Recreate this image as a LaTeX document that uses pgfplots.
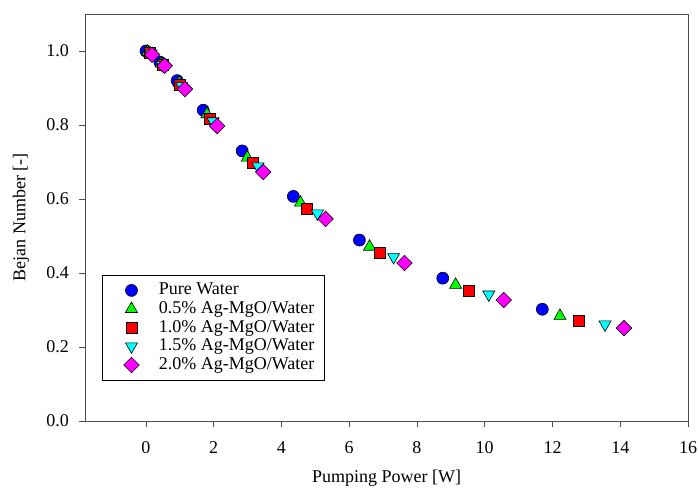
\documentclass[border=0pt]{standalone}
\usepackage{fontspec}
\setmainfont{Liberation Serif}
\usepackage{pgfplots}
\pgfplotsset{compat=1.18}
\definecolor{cblue}{rgb}{0,0,1}
\definecolor{cgreen}{rgb}{0,1,0}
\definecolor{cred}{rgb}{1,0,0}
\definecolor{ccyan}{rgb}{0,1,1}
\definecolor{cmagenta}{rgb}{1,0,1}

\begin{document}
\fontsize{18}{21}\selectfont
\begin{tikzpicture}[x=1pt,y=1pt]
\begin{axis}[
    at={(85pt,73pt)},
    scale only axis,
    width=603pt, height=407pt,
    xmin=-1.8, xmax=16, ymin=0, ymax=1.1,
    xtick={0,2,...,16},
    ytick={0,0.2,...,1.0},
    tick align=outside,
    tick pos=left,
    major tick length=6pt,
    axis line style={line width=0.8pt, black!70},
    every tick/.style={line width=0.8pt, black!70},
    /pgf/number format/assume math mode=true,
    yticklabel style={/pgf/number format/fixed, /pgf/number format/fixed zerofill,
        /pgf/number format/precision=1, xshift=-4pt},
    xticklabel style={yshift=-8pt},
    ticklabel style={font=\fontsize{18}{21}\selectfont},
    xlabel={Pumping Power [W]},
    ylabel={Bejan Number [-]},
    label style={font=\fontsize{18}{21}\selectfont},
    xlabel style={yshift=-4pt},
    ylabel style={yshift=5pt},
    legend style={at={(0.028,0.359)}, anchor=north west, draw=black, line width=0.6pt,
        font=\fontsize{18}{21}\selectfont, row sep=0pt, inner xsep=8pt, inner ysep=6pt,
        nodes={inner xsep=2pt},
        /tikz/every odd column/.append style={column sep=4pt}},
    legend cell align=left,
    every axis plot/.append style={only marks, line width=0.6pt,
        legend image code/.code={\path (0pt,0pt) (42pt,0pt);
            \draw[mark repeat=2,mark phase=2,##1]
            plot coordinates {(0pt,0pt)(21pt,0pt)(42pt,0pt)};}},
]
\addplot[mark=*, mark size=6pt, draw=black, fill=cblue] coordinates {
    (0,1.0)(0.41,0.97)(0.92,0.92)(1.69,0.84)(2.84,0.73)(4.35,0.607)(6.30,0.489)(8.76,0.386)(11.70,0.302)
};
\addlegendentry{Pure Water}
\addplot[mark=triangle*, mark size=7pt, draw=black, fill=cgreen] coordinates {
    (0.05,0.998)(0.45,0.966)(0.98,0.914)(1.80,0.829)(2.99,0.712)(4.56,0.590)(6.60,0.471)(9.14,0.368)(12.22,0.284)
};
\addlegendentry{0.5\% Ag-MgO/Water}
\addplot[mark=square*, mark size=5.5pt, draw=black, fill=cred] coordinates {
    (0.10,0.995)(0.50,0.963)(1.00,0.908)(1.89,0.816)(3.14,0.697)(4.76,0.573)(6.89,0.454)(9.53,0.351)(12.78,0.270)
};
\addlegendentry{1.0\% Ag-MgO/Water}
\addplot[mark=triangle*, mark options={rotate=180}, mark size=7pt, draw=black, fill=ccyan] coordinates {
    (0.15,0.993)(0.48,0.962)(1.06,0.905)(1.98,0.810)(3.31,0.688)(5.06,0.561)(7.31,0.443)(10.12,0.342)(13.55,0.261)
};
\addlegendentry{1.5\% Ag-MgO/Water}
\addplot[mark=square*, mark options={rotate=45}, mark size=5.5pt, draw=black, fill=cmagenta] coordinates {
    (0.18,0.99)(0.55,0.96)(1.15,0.897)(2.10,0.797)(3.46,0.673)(5.30,0.546)(7.63,0.427)(10.56,0.327)(14.11,0.251)
};
\addlegendentry{2.0\% Ag-MgO/Water}
\end{axis}
\pgfresetboundingbox
\path (0,0) rectangle (698,494);
\end{tikzpicture}
\end{document}
